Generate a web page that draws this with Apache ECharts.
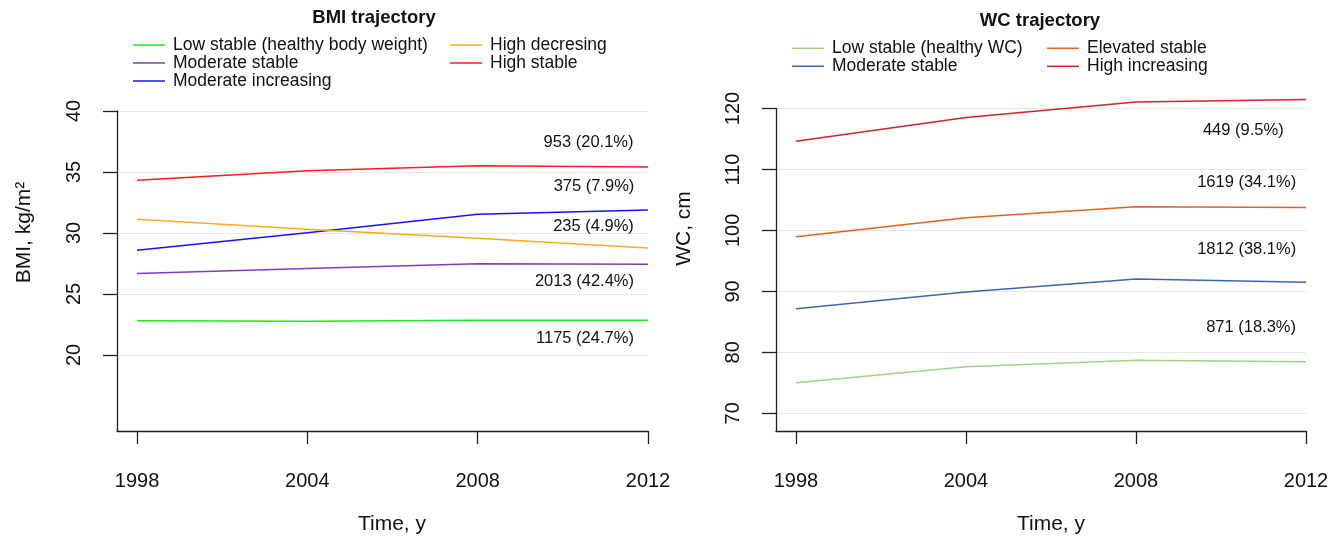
<!DOCTYPE html>
<html><head><meta charset="utf-8">
<script src="https://cdn.jsdelivr.net/npm/echarts@6/dist/echarts.min.js"></script>
<style>html,body{margin:0;padding:0;background:#fff}#c{width:1343px;height:537px}</style>
</head><body><div id="c"></div>
<script>
// ---------- data ----------
const years = ['1998', '2004', '2008', '2012'];

const bmiNames = ['Low stable (healthy body weight)', 'Moderate stable', 'Moderate increasing', 'High decresing', 'High stable'];
const bmiLow = [22.81, 22.76, 22.84, 22.84];
const bmiModStable = [26.67, 27.10, 27.48, 27.43];
const bmiModInc = [28.58, 30.02, 31.53, 31.89];
const bmiHighDec = [31.12, 30.30, 29.57, 28.77];
const bmiHighStable = [34.32, 35.11, 35.52, 35.41];
const bmiTicks = [20, 25, 30, 35, 40];
const bmiNotes = ['953 (20.1%)', '375 (7.9%)', '235 (4.9%)', '2013 (42.4%)', '1175 (24.7%)'];
const bmiNoteX = [2.651, 2.683, 2.680, 2.627, 2.630];
const bmiNoteY = [37.40, 33.85, 30.57, 26.00, 21.37];

const wcNames = ['Low stable (healthy WC)', 'Moderate stable', 'Elevated stable', 'High increasing'];
const wcLow = [75.00, 77.64, 78.69, 78.46];
const wcMod = [87.15, 89.89, 92.02, 91.52];
const wcElev = [98.95, 102.07, 103.87, 103.77];
const wcHigh = [114.64, 118.52, 121.08, 121.48];
const wcTicks = [70, 80, 90, 100, 110, 120];
const wcNotes = ['449 (9.5%)', '1619 (34.1%)', '1812 (38.1%)', '871 (18.3%)'];
const wcNoteX = [2.631, 2.651, 2.651, 2.677];
const wcNoteY = [116.44, 107.87, 96.89, 84.08];

// ---------- styling ----------
const F = '"Liberation Sans", Arial, Helvetica, sans-serif';
const AX = '#222';
const bmiColors = ['#22e622', '#7d3fb8', '#1414ff', '#ffaa1e', '#ff1c1c'];
const wcColors = ['#9fd38a', '#3c66b0', '#e2641c', '#d42424'];
const xIdx = [0, 1, 2, 3];

function toXY(vals) { return vals.map((v, i) => [i, v]); }

function lineSeries(prefix, name, vals, color, gi) {
  return {
    type: 'line', name: prefix + '|' + name, xAxisIndex: gi, yAxisIndex: gi,
    data: toXY(vals), symbol: 'none', clip: false, z: 3,
    lineStyle: { width: 1.5, color: color }, itemStyle: { color: color }
  };
}
function noteSeries(notes, xs, ys, gi) {
  return {
    type: 'scatter', xAxisIndex: gi, yAxisIndex: gi, symbolSize: 1,
    itemStyle: { color: 'rgba(0,0,0,0)' }, silent: true, z: 4,
    data: xs.map((x, i) => [x, ys[i]]),
    label: {
      show: true, position: 'inside', align: 'center', verticalAlign: 'middle',
      formatter: p => notes[p.dataIndex], fontSize: 16.5, fontFamily: F,
      color: '#111', textBorderWidth: 0, opacity: 1
    },
    emphasis: { disabled: true }
  };
}
function xAxis(gi) {
  return {
    type: 'value', gridIndex: gi, min: -0.1175, max: 3,
    axisLine: { show: true, onZero: false, lineStyle: { color: AX, width: 1.3 } },
    axisTick: { show: true, length: 13, customValues: xIdx, lineStyle: { color: AX, width: 1.3 } },
    axisLabel: { customValues: xIdx, formatter: v => years[Math.round(v)], margin: 40, fontSize: 20, fontFamily: F, color: '#111' },
    splitLine: { show: false }
  };
}
function yAxis(gi, min, max, ticks) {
  return {
    type: 'value', gridIndex: gi, min: min, max: max,
    axisLine: { show: true, onZero: false, lineStyle: { color: AX, width: 1.3 } },
    axisTick: { show: true, length: 14, customValues: ticks, lineStyle: { color: AX, width: 1.3 } },
    axisLabel: { customValues: ticks, rotate: 90, margin: 33, fontSize: 20, fontFamily: F, color: '#111' },
    splitLine: { show: true, lineStyle: { color: '#e6e6e6', width: 1 } }
  };
}
function legend(prefix, names, left, top) {
  return {
    orient: 'vertical', left: left, top: top, padding: 0, itemGap: 0,
    itemWidth: 32, itemHeight: 1.5, icon: 'rect', selectedMode: false,
    data: names.map(n => prefix + '|' + n),
    formatter: n => n.split('|')[1],
    textStyle: { fontSize: 17.5, lineHeight: 17.5, fontFamily: F, color: '#111', padding: [0, 0, 0, 3] }
  };
}
function txt(text, x, y, size, opts) {
  return Object.assign({
    type: 'text', x: x, y: y,
    style: { text: text, fontSize: size, fontFamily: F, fill: '#111', align: 'center', verticalAlign: 'middle', fontWeight: (opts && opts.bold) ? 'bold' : 'normal' }
  }, (opts && opts.rot) ? { rotation: Math.PI / 2 } : {});
}

const bmiVals = [bmiLow, bmiModStable, bmiModInc, bmiHighDec, bmiHighStable];
const wcVals = [wcLow, wcMod, wcElev, wcHigh];

const series = [];
bmiNames.forEach((n, i) => series.push(lineSeries('BMI', n, bmiVals[i], bmiColors[i], 0)));
wcNames.forEach((n, i) => series.push(lineSeries('WC', n, wcVals[i], wcColors[i], 1)));
series.push(noteSeries(bmiNotes, bmiNoteX, bmiNoteY, 0));
series.push(noteSeries(wcNotes, wcNoteX, wcNoteY, 1));

const option = {
  animation: false,
  backgroundColor: '#fff',
  grid: [
    { left: 117, top: 111, width: 531, height: 320 },
    { left: 776, top: 108.5, width: 530, height: 322.5 }
  ],
  xAxis: [xAxis(0), xAxis(1)],
  yAxis: [yAxis(0, 13.77, 40, bmiTicks), yAxis(1, 67.1, 120, wcTicks)],
  legend: [
    legend('BMI', bmiNames.slice(0, 3), 133, 36),
    legend('BMI', bmiNames.slice(3), 450, 36),
    legend('WC', wcNames.slice(0, 2), 792, 39.3),
    legend('WC', wcNames.slice(2), 1047, 39.3)
  ],
  graphic: [
    txt('BMI trajectory', 374, 18, 18.5, { bold: true }),
    txt('WC trajectory', 1040, 21, 18.5, { bold: true }),
    txt('Time, y', 392, 524, 21),
    txt('Time, y', 1051, 524, 21),
    txt('BMI, kg/m²', 24, 232.5, 21, { rot: true }),
    txt('WC, cm', 684, 228.5, 21, { rot: true })
  ],
  series: series
};
const chart = echarts.init(document.getElementById('c'), null, { renderer: 'canvas' });
chart.setOption(option);
</script></body></html>
